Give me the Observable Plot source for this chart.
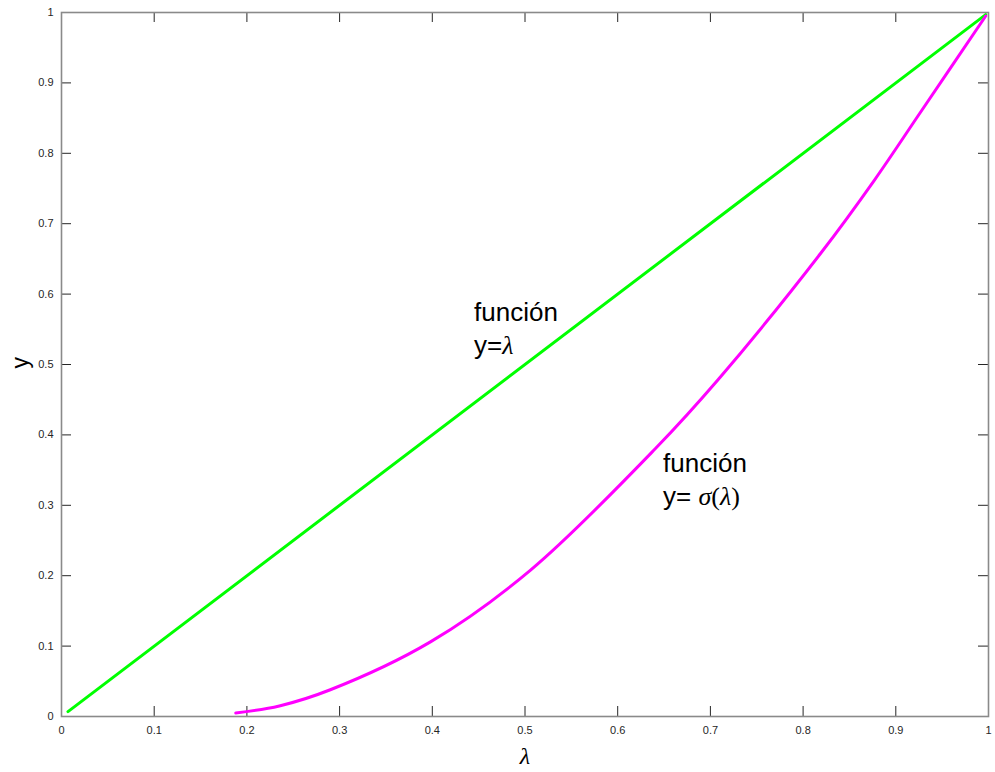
<!DOCTYPE html>
<html>
<head>
<meta charset="utf-8">
<script src="https://cdn.jsdelivr.net/npm/d3@7"></script>
<script src="https://cdn.jsdelivr.net/npm/@observablehq/plot@0.6"></script>
<style>
  html, body { margin: 0; padding: 0; background: #fff; }
</style>
</head>
<body>
<div id="chart"></div>
<script>
// Tick positions and their labels (same on both axes)
const tickValues = [0, 0.1, 0.2, 0.3, 0.4, 0.5, 0.6, 0.7, 0.8, 0.9, 1];
const tickLabels = ["0", "0.1", "0.2", "0.3", "0.4", "0.5", "0.6", "0.7", "0.8", "0.9", "1"];

// y = λ
const identityLambda = [0.007, 0.997];
const identityY = [0.007, 0.997];

// y = σ(λ)
const sigmaLambda = [0.188, 0.235, 0.290, 0.398, 0.506, 0.641, 0.708, 0.819, 0.877, 0.927, 0.997];
const sigmaY      = [0.005, 0.015, 0.038, 0.106, 0.208, 0.381, 0.478, 0.658, 0.762, 0.859, 0.995];

// In-plot annotations
const noteText = ["función\ny=λ", "función\ny= σ(λ)"];
const noteX = [0.445, 0.649];
const noteY = [0.595, 0.381];

const labelOf = new Map(tickValues.map((v, i) => [v, tickLabels[i]]));
const identityData = identityLambda.map((x, i) => ({x, y: identityY[i]}));
const sigmaData = sigmaLambda.map((x, i) => ({x, y: sigmaY[i]}));
const notes = noteText.map((text, i) => ({text, x: noteX[i], y: noteY[i]}));

const W = 995, H = 772;
const mL = 61, mR = 7, mT = 12, mB = 56;
const frameW = W - mL - mR, frameH = H - mT - mB;
const tickLen = 10;
const axisColor = "#262626";

const chart = Plot.plot({
  width: W,
  height: H,
  marginLeft: mL,
  marginRight: mR,
  marginTop: mT,
  marginBottom: mB,
  style: {
    fontFamily: "'Liberation Sans', Arial, Helvetica, sans-serif",
    fontSize: "11px",
    background: "#fff",
    color: axisColor
  },
  x: {domain: [0, 1]},
  y: {domain: [0, 1]},
  marks: [
    // inward ticks on all four sides
    Plot.tickX(tickValues, {x: d => d, stroke: axisColor, insetTop: frameH - tickLen}),
    Plot.tickX(tickValues, {x: d => d, stroke: axisColor, insetBottom: frameH - tickLen}),
    Plot.tickY(tickValues, {y: d => d, stroke: axisColor, insetRight: frameW - tickLen}),
    Plot.tickY(tickValues, {y: d => d, stroke: axisColor, insetLeft: frameW - tickLen}),
    Plot.frame({stroke: "#8a8a8a", strokeWidth: 1.6}),
    Plot.axisX(tickValues, {anchor: "bottom", tickSize: 0, tickPadding: 10, tickFormat: d => labelOf.get(d), label: null, fill: axisColor}),
    Plot.axisY(tickValues, {anchor: "left", tickSize: 0, tickPadding: 8, tickFormat: d => labelOf.get(d), label: null, fill: axisColor}),
    // curves
    Plot.line(identityData, {x: "x", y: "y", stroke: "#00ff00", strokeWidth: 3}),
    Plot.line(sigmaData, {x: "x", y: "y", stroke: "#ff00ff", strokeWidth: 3, curve: "catmull-rom"}),
    // annotations
    Plot.text(notes, {x: "x", y: "y", text: "text", textAnchor: "start", lineAnchor: "top",
      lineHeight: 1.27, fontSize: 26, fill: "#000"}),
    // axis titles
    Plot.text(["λ"], {text: d => d, frameAnchor: "bottom", dy: 47, fontSize: 24, fill: "#000"}),
    Plot.text(["y"], {text: d => d, frameAnchor: "left", dx: -41, dy: 4, rotate: -90, fontSize: 23, fill: "#000"})
  ]
});

// Set Greek letters in italic serif and parentheses in upright serif, as in math notation
function mathify(svg) {
  const walker = document.createTreeWalker(svg, NodeFilter.SHOW_TEXT);
  const nodes = [];
  while (walker.nextNode()) nodes.push(walker.currentNode);
  const ns = "http://www.w3.org/2000/svg";
  for (const node of nodes) {
    const s = node.nodeValue;
    if (!/[λσ]/.test(s)) continue;
    const frag = document.createDocumentFragment();
    const parts = s.split(/([λσ()])/).filter(p => p !== "");
    for (const p of parts) {
      if (/^[λσ()]$/.test(p)) {
        const t = document.createElementNS(ns, "tspan");
        t.setAttribute("font-family", "'Liberation Serif', 'Times New Roman', serif");
        if (/[λσ]/.test(p)) t.setAttribute("font-style", "italic");
        t.textContent = p;
        frag.appendChild(t);
      } else {
        frag.appendChild(document.createTextNode(p));
      }
    }
    node.parentNode.replaceChild(frag, node);
  }
}
mathify(chart);

document.getElementById("chart").appendChild(chart);
</script>
</body>
</html>
